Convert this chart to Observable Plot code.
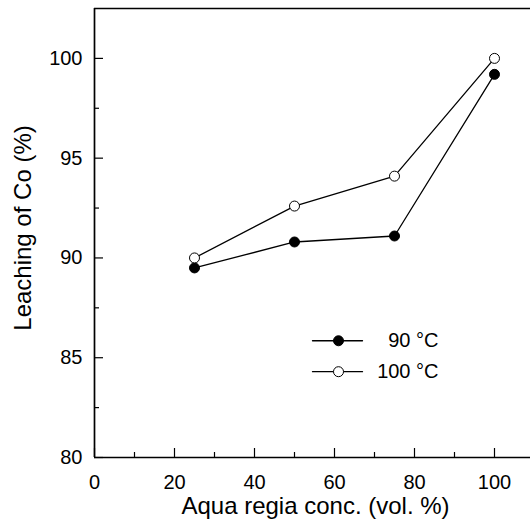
<!DOCTYPE html>
<html>
<head>
<meta charset="utf-8">
<script src="https://cdn.jsdelivr.net/npm/d3@7"></script>
<script src="https://cdn.jsdelivr.net/npm/@observablehq/plot@0.6"></script>
<style>
  html, body { margin: 0; padding: 0; background: #fff; }
  svg { display: block; }
</style>
</head>
<body>
<div id="chart"></div>
<script>
// ---- data ----
const conc = [25, 50, 75, 100];
const leach90 = [89.5, 90.8, 91.1, 99.2];
const leach100 = [90.0, 92.6, 94.1, 100.0];
const seriesNames = ["90 °C", "100 °C"];
const xTicks = [0, 20, 40, 60, 80, 100];
const xMinor = [10, 30, 50, 70, 90];
const yTicks = [80, 85, 90, 95, 100];
const yMinor = [82.5, 87.5, 92.5, 97.5];
const xDomain = [0, 109];
const yDomain = [80, 102.5];
const xLabel = "Aqua regia conc. (vol. %)";
const yLabel = "Leaching of Co (%)";
// legend placement (in data units)
const legendX = [54.5, 67];
const legendMarkX = 61;
const legendTextX = 86;
const legendY = [85.85, 84.3];

const rows90 = conc.map((c, i) => ({x: c, y: leach90[i]}));
const rows100 = conc.map((c, i) => ({x: c, y: leach100[i]}));

const W = 530, H = 526, mL = 94, mR = 0, mT = 8, mB = 69;
const pw = W - mL - mR, ph = H - mT - mB;
const font = "'Liberation Sans', Arial, Helvetica, sans-serif";

const legendLines = legendY.flatMap((y, i) => legendX.map(x => ({x, y, s: i})));
const legendMarks = legendY.map((y, i) => ({x: legendMarkX, y, s: i}));
const legendTexts = legendY.map((y, i) => ({x: legendTextX, y, t: seriesNames[i]}));

const chart = Plot.plot({
  width: W, height: H,
  marginLeft: mL, marginRight: mR, marginTop: mT, marginBottom: mB,
  style: {fontFamily: font, fontSize: "20px", color: "#000", background: "#fff"},
  x: {domain: xDomain},
  y: {domain: yDomain},
  marks: [
    // frame: left, bottom, top
    Plot.ruleX([xDomain[0]], {stroke: "#000", strokeWidth: 1.7}),
    Plot.ruleY([yDomain[0], yDomain[1]], {stroke: "#000", strokeWidth: 1.7}),
    // inward ticks
    Plot.tickX(xTicks, {x: d => d, stroke: "#000", strokeWidth: 1.2, insetTop: ph - 9}),
    Plot.tickX(xMinor, {x: d => d, stroke: "#000", strokeWidth: 1.2, insetTop: ph - 5}),
    Plot.tickY(yTicks, {y: d => d, stroke: "#000", strokeWidth: 1.2, insetRight: pw - 9}),
    Plot.tickY(yMinor, {y: d => d, stroke: "#000", strokeWidth: 1.2, insetRight: pw - 5}),
    Plot.axisX({ticks: xTicks, tickSize: 0, tickPadding: 17, label: null, fontSize: 20}),
    Plot.axisY({ticks: yTicks, tickSize: 0, tickPadding: 12, label: null, fontSize: 20}),
    // axis titles
    Plot.text([xLabel], {frameAnchor: "bottom", lineAnchor: "middle", dy: 49, dx: 3, fontSize: 24, text: d => d}),
    Plot.text([yLabel], {frameAnchor: "left", textAnchor: "middle", lineAnchor: "middle", rotate: -90, dx: -71, dy: -5, fontSize: 24, text: d => d}),
    // series
    Plot.line(rows90, {x: "x", y: "y", stroke: "#000", strokeWidth: 1.3}),
    Plot.line(rows100, {x: "x", y: "y", stroke: "#000", strokeWidth: 1.3}),
    Plot.dot(rows90, {x: "x", y: "y", r: 5, fill: "#000", stroke: "#000", strokeWidth: 1}),
    Plot.dot(rows100, {x: "x", y: "y", r: 5, fill: "#fff", stroke: "#000", strokeWidth: 1}),
    // legend
    Plot.line(legendLines, {x: "x", y: "y", z: "s", stroke: "#000", strokeWidth: 1.3}),
    Plot.dot(legendMarks, {x: "x", y: "y", r: 5, fill: d => d.s === 0 ? "#000" : "#fff", stroke: "#000", strokeWidth: 1}),
    Plot.text(legendTexts, {x: "x", y: "y", text: "t", textAnchor: "end", fontSize: 20})
  ]
});
document.getElementById("chart").appendChild(chart);
</script>
</body>
</html>
